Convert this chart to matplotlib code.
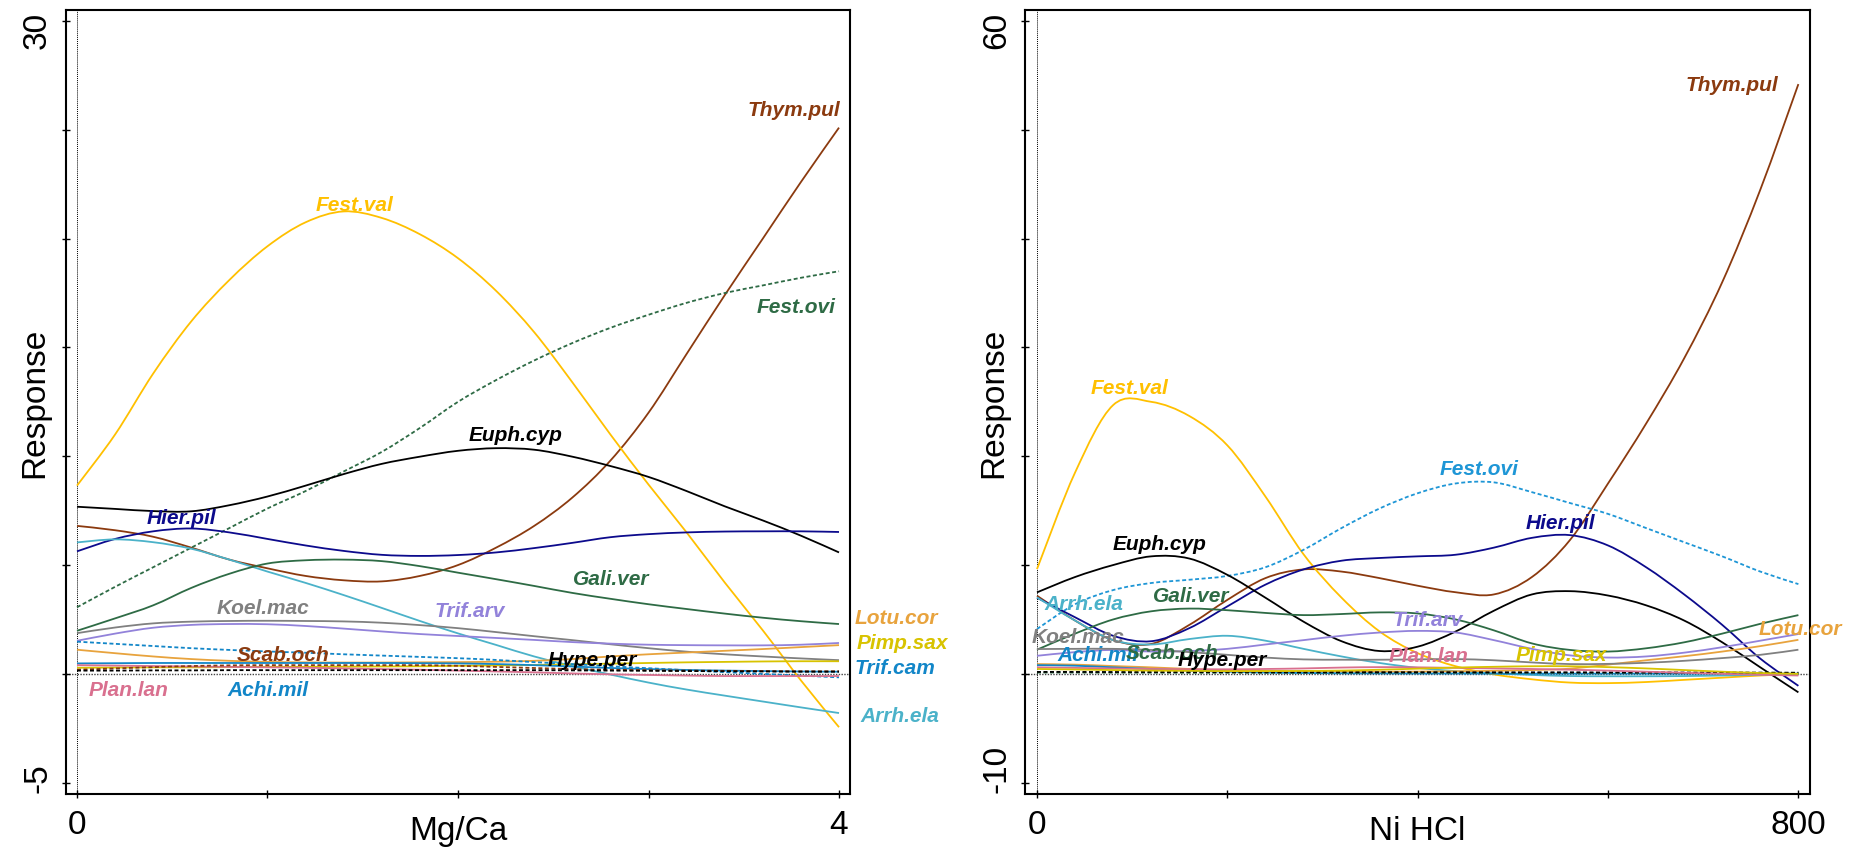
import numpy as np
import matplotlib
matplotlib.use("Agg")
import matplotlib.pyplot as plt
from matplotlib.path import Path
from matplotlib.patches import PathPatch

plt.rcParams['font.family'] = ['Liberation Sans', 'DejaVu Sans']

# gradient values, left panel (Mg/Ca)
mgca = [0.0, 0.2, 0.4, 0.6, 0.8, 1.0, 1.2, 1.4, 1.6, 1.8, 2.0,
        2.2, 2.4, 2.6, 2.8, 3.0, 3.2, 3.4, 3.6, 3.8, 4.0]

mg_thym_pul = [6.8, 6.6, 6.3, 5.8, 5.25, 4.85, 4.5, 4.3, 4.25, 4.5, 5.0,
               5.8, 6.8, 8.1, 9.8, 12.0, 14.7, 17.4, 20.0, 22.6, 25.1]
mg_fest_val = [8.65, 11.0, 13.8, 16.2, 18.1, 19.65, 20.75, 21.25, 20.95, 20.2, 19.1,
               17.6, 15.7, 13.4, 11.0, 8.7, 6.5, 4.2, 2.0, -0.3, -2.45]
mg_fest_ovi = [3.06, 4.0, 4.9, 5.8, 6.7, 7.6, 8.4, 9.3, 10.2, 11.3, 12.5,
               13.5, 14.4, 15.2, 15.9, 16.5, 17.05, 17.5, 17.85, 18.2, 18.5]
mg_euph_cyp = [7.68, 7.58, 7.48, 7.47, 7.75, 8.15, 8.65, 9.18, 9.65, 9.98, 10.25,
               10.37, 10.3, 9.98, 9.55, 9.05, 8.4, 7.7, 7.05, 6.35, 5.58]
mg_hier_pil = [5.63, 6.2, 6.55, 6.68, 6.5, 6.2, 5.9, 5.65, 5.47, 5.42, 5.46,
               5.58, 5.78, 6.02, 6.28, 6.42, 6.5, 6.54, 6.55, 6.55, 6.52]
mg_arrh_ela = [6.04, 6.18, 6.05, 5.75, 5.25, 4.7, 4.18, 3.62, 3.03, 2.43, 1.86,
               1.33, 0.8, 0.36, -0.03, -0.4, -0.72, -1.0, -1.27, -1.54, -1.8]
mg_gali_ver = [1.98, 2.55, 3.15, 3.95, 4.6, 5.07, 5.22, 5.25, 5.18, 4.95, 4.65,
               4.35, 4.04, 3.72, 3.45, 3.2, 2.98, 2.77, 2.58, 2.42, 2.29]
mg_koel_mac = [1.87, 2.13, 2.32, 2.4, 2.43, 2.44, 2.43, 2.41, 2.35, 2.24, 2.1,
               1.92, 1.73, 1.55, 1.36, 1.18, 1.02, 0.9, 0.8, 0.71, 0.63]
mg_trif_arv = [1.52, 1.85, 2.12, 2.25, 2.29, 2.28, 2.2, 2.08, 1.95, 1.83, 1.74,
               1.65, 1.56, 1.46, 1.39, 1.34, 1.32, 1.31, 1.31, 1.34, 1.42]
mg_lotu_cor = [1.11, 0.95, 0.8, 0.68, 0.6, 0.55, 0.53, 0.52, 0.52, 0.53, 0.54,
               0.56, 0.6, 0.68, 0.8, 0.9, 0.98, 1.06, 1.14, 1.23, 1.32]
mg_pimp_sax = [0.28, 0.29, 0.3, 0.3, 0.31, 0.32, 0.32, 0.33, 0.34, 0.35, 0.37,
               0.39, 0.41, 0.44, 0.47, 0.5, 0.53, 0.55, 0.57, 0.58, 0.58]
mg_trif_cam = [1.48, 1.38, 1.28, 1.18, 1.1, 1.03, 0.97, 0.9, 0.84, 0.78, 0.72,
               0.64, 0.54, 0.45, 0.35, 0.26, 0.17, 0.08, 0.0, -0.08, -0.16]
mg_achi_mil = [0.48, 0.49, 0.5, 0.5, 0.5, 0.5, 0.5, 0.5, 0.5, 0.49, 0.48,
               0.45, 0.4, 0.34, 0.27, 0.22, 0.18, 0.15, 0.13, 0.11, 0.1]
mg_plan_lan = [0.4, 0.38, 0.36, 0.34, 0.32, 0.3, 0.28, 0.25, 0.22, 0.19, 0.15,
               0.11, 0.07, 0.02, -0.02, -0.05, -0.08, -0.1, -0.1, -0.1, -0.1]
mg_scab_och = [0.19, 0.25, 0.31, 0.36, 0.39, 0.4, 0.4, 0.4, 0.4, 0.4, 0.37,
               0.32, 0.27, 0.22, 0.19, 0.17, 0.15, 0.14, 0.13, 0.12, 0.12]
mg_hype_per = [0.15, 0.15, 0.16, 0.16, 0.17, 0.17, 0.17, 0.17, 0.17, 0.17, 0.17,
               0.17, 0.17, 0.16, 0.15, 0.14, 0.13, 0.12, 0.11, 0.1, 0.1]

# gradient values, right panel (Ni HCl)
nihcl = [0, 40, 80, 120, 160, 200, 240, 280, 320, 360, 400,
         440, 480, 520, 560, 600, 640, 680, 720, 760, 800]

ni_thym_pul = [7.18, 4.9, 3.1, 2.75, 4.5, 6.8, 8.8, 9.6, 9.4, 8.8, 8.1,
               7.5, 7.3, 8.9, 12.3, 17.5, 23.0, 29.0, 36.0, 44.5, 54.2]
ni_fest_val = [9.63, 18.5, 24.7, 25.0, 23.7, 21.0, 16.3, 11.0, 7.0, 3.9, 1.9,
               0.7, -0.05, -0.5, -0.8, -0.85, -0.75, -0.55, -0.35, -0.15, 0.0]
ni_fest_ovi = [4.12, 6.4, 7.7, 8.35, 8.65, 9.0, 9.8, 11.4, 13.4, 15.2, 16.6,
               17.5, 17.6, 16.7, 15.7, 14.7, 13.4, 12.1, 10.8, 9.4, 8.25]
ni_hier_pil = [7.0, 5.2, 3.5, 3.0, 4.2, 6.2, 8.2, 9.6, 10.4, 10.65, 10.8,
               10.95, 11.6, 12.5, 12.75, 11.8, 9.8, 7.3, 4.5, 1.4, -1.1]
ni_euph_cyp = [7.49, 8.9, 10.0, 10.8, 10.6, 9.1, 7.0, 4.8, 3.0, 2.1, 2.5,
               3.9, 5.8, 7.3, 7.6, 7.2, 6.3, 4.9, 2.9, 0.6, -1.7]
ni_gali_ver = [2.22, 3.7, 5.0, 5.75, 6.0, 5.85, 5.6, 5.4, 5.5, 5.65, 5.55,
               5.0, 4.0, 2.8, 2.2, 2.05, 2.35, 2.9, 3.7, 4.6, 5.4]
ni_arrh_ela = [7.03, 4.9, 3.1, 2.7, 3.2, 3.5, 3.05, 2.3, 1.6, 1.0, 0.55,
               0.25, 0.05, -0.1, -0.2, -0.22, -0.22, -0.2, -0.15, -0.08, 0.0]
ni_trif_arv = [1.66, 2.0, 2.2, 2.05, 2.1, 2.3, 2.7, 3.1, 3.5, 3.8, 3.95,
               3.8, 3.1, 2.3, 1.7, 1.5, 1.6, 1.95, 2.45, 3.05, 3.66]
ni_koel_mac = [2.28, 2.3, 2.3, 2.2, 2.0, 1.75, 1.5, 1.33, 1.3, 1.3, 1.33,
               1.36, 1.25, 1.05, 0.9, 0.92, 1.02, 1.2, 1.45, 1.75, 2.22]
ni_lotu_cor = [0.9, 0.85, 0.72, 0.6, 0.45, 0.33, 0.27, 0.22, 0.2, 0.2, 0.21,
               0.24, 0.28, 0.35, 0.48, 0.85, 1.25, 1.62, 2.05, 2.55, 3.13]
ni_pimp_sax = [0.45, 0.4, 0.35, 0.3, 0.28, 0.25, 0.25, 0.27, 0.3, 0.38, 0.48,
               0.58, 0.65, 0.7, 0.7, 0.62, 0.5, 0.35, 0.2, 0.08, 0.0]
ni_plan_lan = [0.6, 0.55, 0.5, 0.45, 0.43, 0.42, 0.45, 0.5, 0.58, 0.62, 0.6,
               0.55, 0.5, 0.45, 0.38, 0.3, 0.2, 0.1, 0.0, -0.08, -0.15]
ni_achi_mil = [0.8, 0.75, 0.6, 0.45, 0.3, 0.2, 0.12, 0.08, 0.05, 0.04, 0.03,
               0.03, 0.02, 0.02, 0.02, 0.02, 0.02, 0.02, 0.02, 0.02, 0.02]
ni_scab_och = [0.12, 0.12, 0.11, 0.11, 0.1, 0.1, 0.1, 0.1, 0.1, 0.1, 0.1,
               0.1, 0.1, 0.1, 0.1, 0.1, 0.1, 0.1, 0.1, 0.1, 0.1]
ni_hype_per = [0.18, 0.18, 0.17, 0.17, 0.16, 0.16, 0.15, 0.15, 0.15, 0.15, 0.15,
               0.15, 0.14, 0.14, 0.14, 0.13, 0.13, 0.12, 0.12, 0.11, 0.1]

BROWN = '#8B3A0F'
GOLD = '#FFC000'
DKGREEN = '#2E6B45'
NAVY = '#0C0A8C'
GRAY = '#808080'
LAVENDER = '#9282DA'
PINK = '#D9708F'
BLUE = '#1286C8'
ORANGE = '#E8A33D'
YELLOW = '#D8C300'
TEAL = '#4BB2C9'
SKY = '#1E96D6'

SOLID = '-'
DASH = (0, (2.2, 1.4))

# name, values, colour, linestyle, label position (data units), alignment
mg_species = [
    ('Thym.pul', mg_thym_pul, BROWN, SOLID, (3.764, 25.95), 'center'),
    ('Fest.val', mg_fest_val, GOLD, SOLID, (1.459, 21.59), 'center'),
    ('Fest.ovi', mg_fest_ovi, DKGREEN, DASH, (3.774, 16.9), 'center'),
    ('Euph.cyp', mg_euph_cyp, 'black', SOLID, (2.304, 11.0), 'center'),
    ('Hier.pil', mg_hier_pil, NAVY, SOLID, (0.546, 7.2), 'center'),
    ('Arrh.ela', mg_arrh_ela, TEAL, SOLID, (4.11, -1.89), 'left'),
    ('Gali.ver', mg_gali_ver, DKGREEN, SOLID, (2.803, 4.36), 'center'),
    ('Koel.mac', mg_koel_mac, GRAY, SOLID, (0.976, 3.03), 'center'),
    ('Trif.arv', mg_trif_arv, LAVENDER, SOLID, (2.063, 2.93), 'center'),
    ('Lotu.cor', mg_lotu_cor, ORANGE, SOLID, (4.084, 2.61), 'left'),
    ('Pimp.sax', mg_pimp_sax, YELLOW, SOLID, (4.094, 1.46), 'left'),
    ('Trif.cam', mg_trif_cam, BLUE, DASH, (4.084, 0.27), 'left'),
    ('Achi.mil', mg_achi_mil, BLUE, SOLID, (1.003, -0.70), 'center'),
    ('Plan.lan', mg_plan_lan, PINK, SOLID, (0.273, -0.70), 'center'),
    ('Scab.och', mg_scab_och, BROWN, DASH, (1.081, 0.91), 'center'),
    ('Hype.per', mg_hype_per, 'black', DASH, (2.703, 0.68), 'center'),
]

ni_species = [
    ('Thym.pul', ni_thym_pul, BROWN, SOLID, (729.8, 54.2), 'center'),
    ('Fest.val', ni_fest_val, GOLD, SOLID, (96.7, 26.3), 'center'),
    ('Fest.ovi', ni_fest_ovi, SKY, DASH, (464.8, 18.9), 'center'),
    ('Hier.pil', ni_hier_pil, NAVY, SOLID, (550.0, 13.95), 'center'),
    ('Euph.cyp', ni_euph_cyp, 'black', SOLID, (129.3, 12.02), 'center'),
    ('Gali.ver', ni_gali_ver, DKGREEN, SOLID, (162.0, 7.16), 'center'),
    ('Arrh.ela', ni_arrh_ela, TEAL, SOLID, (49.4, 6.51), 'center'),
    ('Trif.arv', ni_trif_arv, LAVENDER, SOLID, (411.0, 5.04), 'center'),
    ('Lotu.cor', ni_lotu_cor, ORANGE, SOLID, (802.0, 4.21), 'center'),
    ('Koel.mac', ni_koel_mac, GRAY, SOLID, (43.1, 3.47), 'center'),
    ('Achi.mil', ni_achi_mil, BLUE, SOLID, (64.0, 1.82), 'center'),
    ('Scab.och', ni_scab_och, DKGREEN, DASH, (142.0, 2.0), 'center'),
    ('Hype.per', ni_hype_per, 'black', DASH, (194.5, 1.36), 'center'),
    ('Plan.lan', ni_plan_lan, PINK, SOLID, (411.0, 1.73), 'center'),
    ('Pimp.sax', ni_pimp_sax, YELLOW, SOLID, (551.0, 1.82), 'center'),
]


def curve_path(x, y):
    """Smooth Bezier path passing through every (x, y) point."""
    p = np.column_stack([x, y]).astype(float)
    n = len(p)
    verts = [p[0]]
    codes = [Path.MOVETO]
    for i in range(n - 1):
        p0 = p[max(i - 1, 0)]
        p3 = p[min(i + 2, n - 1)]
        c1 = p[i] + (p[i + 1] - p0) / 6.0
        c2 = p[i + 1] - (p3 - p[i]) / 6.0
        verts += [c1, c2, p[i + 1]]
        codes += [Path.CURVE4] * 3
    return Path(verts, codes)


def draw_panel(ax, x, species, xlim, ylim, xticks, yticks, xlabel):
    ax.set_xlim(*xlim)
    ax.set_ylim(*ylim)
    ax.axvline(0, color='black', lw=0.7, ls=(0, (1, 1)), zorder=1)
    ax.axhline(0, color='#444444', lw=1.0, ls=(0, (1, 1)), zorder=1)
    for name, vals, col, ls, _, _ in species:
        ax.add_patch(PathPatch(curve_path(x, vals), fill=False, edgecolor=col,
                               linestyle=ls, lw=1.3, zorder=2))
    for name, vals, col, ls, (tx, ty), ha in species:
        ax.text(tx, ty, name, color=col, ha=ha, va='center', fontsize=15,
                fontweight='bold', fontstyle='italic', zorder=3, clip_on=False)

    for s in ax.spines.values():
        s.set_linewidth(1.5)
    ax.set_xticks(xticks)
    ax.set_xticklabels([str(xticks[0])] + [''] * (len(xticks) - 2) + [str(xticks[-1])])
    ax.set_yticks(yticks)
    ax.set_yticklabels([])
    ax.tick_params(direction='inout', length=6, width=1, labelsize=24, pad=7.5)

    # end labels on the y axis, kept inside the frame height
    ax.text(-0.0165, 0.9987, str(yticks[-1]), transform=ax.transAxes,
            rotation=90, ha='right', va='top', fontsize=24)
    ax.text(-0.0165, 0.0026, str(yticks[0]), transform=ax.transAxes,
            rotation=90, ha='right', va='bottom', fontsize=24)

    ax.set_ylabel('Response', fontsize=24)
    ax.yaxis.set_label_coords(-0.0205, 0.5)
    ax.set_xlabel(xlabel, fontsize=24, va='baseline')
    ax.xaxis.set_label_coords(0.5, -0.0575)


fig = plt.figure(figsize=(18.56, 8.54), dpi=100)
ax1 = fig.add_axes([66 / 1856, 1 - 795 / 854, 784 / 1856, 784 / 854])
ax2 = fig.add_axes([1025 / 1856, 1 - 795 / 854, 785 / 1856, 784 / 854])

draw_panel(ax1, mgca, mg_species, (-0.0577, 4.0577), (-5.52, 30.505),
           [0, 1, 2, 3, 4], [-5, 0, 5, 10, 15, 20, 25, 30], 'Mg/Ca')
draw_panel(ax2, nihcl, ni_species, (-12.6, 812.2), (-11.04, 61.01),
           [0, 200, 400, 600, 800], [-10, 0, 10, 20, 30, 40, 50, 60], 'Ni HCl')

fig.savefig('out.png', dpi=100)
